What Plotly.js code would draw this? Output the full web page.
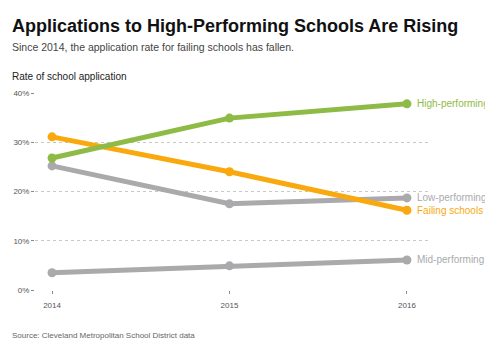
<!DOCTYPE html>
<html>
<head>
<meta charset="utf-8">
<script src="https://cdn.plot.ly/plotly-3.0.1.min.js"></script>
<style>html,body{margin:0;padding:0;background:#fff;}#chart{width:485px;height:360px;}</style>
</head>
<body>
<div id="chart"></div>
<script>
var years = [2014, 2015, 2016];
var highPerforming = [26.8, 34.9, 37.8];
var failingSchools = [31.1, 24.0, 16.2];
var lowPerforming = [25.2, 17.5, 18.7];
var midPerforming = [3.5, 4.9, 6.1];
var yTickVals = [0, 10, 20, 30, 40];
var yTickText = ['0%', '10%', '20%', '30%', '40%'];
var xTickVals = [2014, 2015, 2016];
var xTickText = ['2014', '2015', '2016'];

var GREEN = '#8dbb45', ORANGE = '#f9a90d', GREY = '#aaaaac';
var FONT = 'Liberation Sans, Arial, Helvetica, sans-serif';
var ML = 35, MR = 55, MT = 93, MB = 70, W = 485, H = 360;

function series(y, color, name) {
  return {x: years, y: y, name: name, type: 'scatter', mode: 'lines+markers',
    line: {color: color, width: 5}, marker: {color: color, size: 9},
    cliponaxis: false, hoverinfo: 'skip'};
}
var traces = [
  series(midPerforming, GREY, 'Mid-performing'),
  series(lowPerforming, GREY, 'Low-performing'),
  series(failingSchools, ORANGE, 'Failing schools'),
  series(highPerforming, GREEN, 'High-performing')
];

function endLabel(y, text, color) {
  return {x: 2016, y: y, xref: 'x', yref: 'y', text: text, showarrow: false,
    xanchor: 'left', yanchor: 'middle', xshift: 8, font: {family: FONT, size: 10, color: color}};
}
function txt(px, py, text, size, color, bold) {
  var pw = W - ML - MR, ph = H - MT - MB;
  return {x: (px - ML) / pw, y: (H - MB - py) / ph, xref: 'paper', yref: 'paper',
    text: bold ? '<b>' + text + '</b>' : text,
    showarrow: false, xanchor: 'left', yanchor: 'middle', font: {family: FONT, size: size, color: color}};
}

var layout = {
  width: W, height: H,
  margin: {l: ML, r: MR, t: MT, b: MB, pad: 0},
  paper_bgcolor: '#fff', plot_bgcolor: '#fff',
  showlegend: false,
  xaxis: {range: [2013.904, 2016.13], tickvals: xTickVals, ticktext: xTickText,
    showgrid: false, zeroline: false, showline: false,
    ticks: 'outside', ticklen: 3, tickcolor: '#888', tickwidth: 1,
    ticklabelstandoff: 4,
    tickfont: {family: FONT, size: 8, color: '#555'}, fixedrange: true},
  yaxis: {range: [0, 40], tickvals: yTickVals, ticktext: yTickText,
    showgrid: true, gridcolor: '#c8c8c8', griddash: '3px,3px', gridwidth: 1,
    zeroline: false, showline: false,
    ticks: 'outside', ticklen: 3, tickcolor: '#888',
    tickfont: {family: FONT, size: 8, color: '#555'}, fixedrange: true},
  annotations: [
    endLabel(highPerforming[2], 'High-performing', GREEN),
    endLabel(lowPerforming[2], 'Low-performing', GREY),
    endLabel(failingSchools[2], 'Failing schools', ORANGE),
    endLabel(midPerforming[2], 'Mid-performing', GREY),
    txt(10, 26, 'Applications to High-Performing Schools Are Rising', 18, '#111', true),
    txt(10, 47, 'Since 2014, the application rate for failing schools has fallen.', 10.5, '#444', false),
    txt(10, 76, 'Rate of school application', 10, '#222', false),
    txt(10, 335, 'Source: Cleveland Metropolitan School District data', 8, '#666', false)
  ]
};
Plotly.newPlot('chart', traces, layout, {displayModeBar: false, staticPlot: true});
</script>
</body>
</html>
